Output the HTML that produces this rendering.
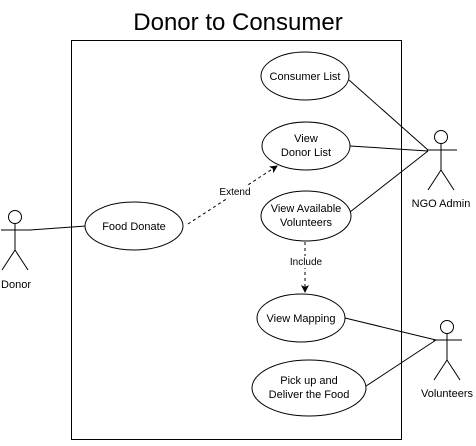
<!DOCTYPE html>
<html><head><meta charset="utf-8"><style>body{margin:0;background:#fff}</style></head><body>
<svg width="476" height="441" viewBox="0 0 476 441" xmlns="http://www.w3.org/2000/svg" font-family="Liberation Sans, sans-serif">
<defs><marker id="a" markerWidth="8" markerHeight="8" refX="7" refY="4" orient="auto" markerUnits="userSpaceOnUse"><path d="M0,0 L8,4 L0,8 L2,4 Z" fill="#000"/></marker></defs>
<text x="238" y="30" font-size="24" text-anchor="middle">Donor to Consumer</text>
<rect x="71.5" y="40.5" width="330" height="399" fill="none" stroke="#000"/>
<g fill="none" stroke="#000">
<line x1="30" y1="230" x2="86" y2="226"/>
<line x1="349" y1="80" x2="428" y2="150"/>
<line x1="350" y1="146" x2="428" y2="151"/>
<line x1="350" y1="212" x2="428" y2="151"/>
<line x1="345" y1="318" x2="436" y2="340"/>
<line x1="357" y1="392" x2="436" y2="340"/>
<line x1="188" y1="224" x2="277" y2="166" stroke-dasharray="3,3" marker-end="url(#a)"/>
<line x1="305" y1="242" x2="305" y2="292" stroke-dasharray="3,3" marker-end="url(#a)"/>
<ellipse cx="305" cy="76" rx="44" ry="24" fill="#fff"/>
<ellipse cx="306" cy="146" rx="44" ry="24" fill="#fff"/>
<ellipse cx="306" cy="216" rx="45" ry="25" fill="#fff"/>
<ellipse cx="134" cy="226" rx="49" ry="24" fill="#fff"/>
<ellipse cx="301" cy="318" rx="44" ry="24" fill="#fff"/>
<ellipse cx="309" cy="388" rx="57" ry="28" fill="#fff"/>
<circle cx="15" cy="217" r="6.5"/><path d="M15,223.5V250M1,230H30M15,250L2,270M15,250L28,270"/>
<circle cx="441" cy="137" r="6.5"/><path d="M441,143.5V170M427,150H457M441,170L428,190M441,170L454,190"/>
<circle cx="447" cy="327" r="6.5"/><path d="M447,333.5V360M433,340H462M447,360L434,380M447,360L460,380"/>
</g>
<g font-size="11" text-anchor="middle">
<text x="305" y="80">Consumer List</text>
<text x="306" y="142">View</text><text x="306" y="156">Donor List</text>
<text x="306" y="212">View Available</text><text x="306" y="226">Volunteers</text>
<text x="134" y="230">Food Donate</text>
<text x="301" y="322">View Mapping</text>
<text x="309" y="384">Pick up  and</text><text x="309" y="398">Deliver the Food</text>
<text x="16" y="288">Donor</text>
<text x="441" y="207">NGO Admin</text>
<text x="447" y="397">Volunteers</text>
</g>
<g font-size="10" text-anchor="middle">
<rect x="216" y="186" width="38" height="12" fill="#fff"/><text x="235" y="195">Extend</text>
<rect x="286" y="256" width="40" height="12" fill="#fff"/><text x="306" y="265">Include</text>
</g>
</svg>
</body></html>
